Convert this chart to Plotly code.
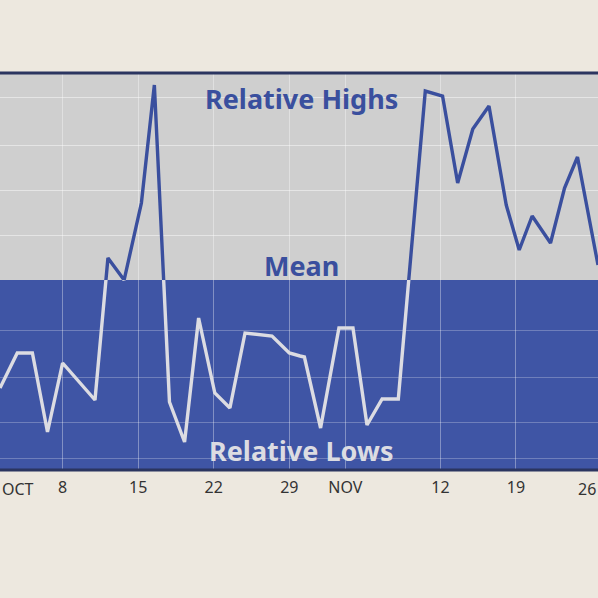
import plotly.graph_objects as go

# days since Oct 1 and value relative to mean (mean = 0)
days = [1.2, 2.8, 4.2, 5.6, 7.0, 10.0, 11.2, 12.7, 14.3, 15.5, 16.9, 18.3, 19.6,
        21.1, 22.5, 23.9, 26.4, 28.0, 29.0, 29.4, 30.9, 32.6, 33.9, 35.2, 36.6,
        38.1, 40.6, 42.2, 43.6, 45.0, 46.5, 48.1, 49.3, 50.5, 52.2, 53.5, 54.7, 56.6]
vals = [-10.8, -7.3, -7.3, -15.2, -8.3, -12.0, 2.2, 0.0, 7.7, 19.5, -12.2, -16.2, -3.8,
        -11.3, -12.8, -5.3, -5.6, -7.3, -7.6, -7.7, -14.8, -4.8, -4.8, -14.5, -11.9,
        -11.9, 18.9, 18.4, 9.7, 15.1, 17.4, 7.5, 3.0, 6.4, 3.7, 9.2, 12.3, 1.5]

tick_days = [0, 7, 14, 21, 28, 33.2, 42, 49, 56]
tick_text = ["OCT", "8", "15", "22", "29", "NOV", "12", "19", "26"]
grid_hi = [4.5, 9.0, 13.5, 18.3]
grid_lo = [-5.0, -9.7, -14.2, -17.8]

top, mean, low = 20.7, 0.0, -19.0
split = (mean - low) / (top - low)
navy = "#3a4f9e"
tfont = dict(family="Noto Sans", size=16, color="#333")

fig = go.Figure()
fig.add_trace(go.Scatter(x=days, y=vals, mode="lines", yaxis="y",
                         line=dict(color=navy, width=3.4), hoverinfo="skip"))
fig.add_trace(go.Scatter(x=days, y=vals, mode="lines", yaxis="y2",
                         line=dict(color="#dcdce2", width=3.4), hoverinfo="skip"))

fig.add_shape(type="rect", xref="paper", yref="paper", x0=0, x1=1, y0=split, y1=1,
              fillcolor="#cfcfcf", line_width=0, layer="below")
fig.add_shape(type="rect", xref="paper", yref="paper", x0=0, x1=1, y0=0, y1=split,
              fillcolor="#3f55a5", line_width=0, layer="below")
for yy in (0, 1):
    fig.add_shape(type="line", xref="paper", yref="paper", x0=0, x1=1, y0=yy, y1=yy,
                  line=dict(color="#2b3560", width=3))

lbl = dict(family="Noto Sans", size=27)
for yy, txt, col in [(0.937, "Relative Highs", navy), (0.514, "Mean", navy),
                     (0.05, "Relative Lows", "#dcdce2")]:
    fig.add_annotation(x=0.505, y=yy, xref="paper", yref="paper", yanchor="middle",
                       text=f"<b>{txt}</b>", showarrow=False, font=dict(color=col, **lbl))

# tick labels at the cut edges, drawn as annotations so they are not dropped
fig.add_annotation(x=0, y=-0.048, xref="paper", yref="paper", xanchor="left",
                   yanchor="middle", text=tick_text[0], showarrow=False, font=tfont)
fig.add_annotation(x=1, y=-0.048, xref="paper", yref="paper", xanchor="right",
                   yanchor="middle", text=tick_text[-1], showarrow=False, font=tfont)

fig.update_layout(
    width=598, height=598, margin=dict(l=0, r=0, t=73, b=128),
    paper_bgcolor="#ede8df", plot_bgcolor="rgba(0,0,0,0)", showlegend=False,
    xaxis=dict(range=[1.2, 56.6], tickvals=tick_days[1:-1], ticktext=tick_text[1:-1],
               anchor="y2", showgrid=True, gridcolor="rgba(255,255,255,0.35)",
               zeroline=False, tickfont=tfont, ticks="", ticklabelstandoff=6),
    yaxis=dict(domain=[split, 1], range=[mean, top], tickvals=grid_hi, showticklabels=False,
               gridcolor="rgba(255,255,255,0.45)", zeroline=False, anchor="x"),
    yaxis2=dict(domain=[0, split], range=[low, mean], tickvals=grid_lo, showticklabels=False,
                gridcolor="rgba(255,255,255,0.25)", zeroline=False, anchor="x"),
)
fig.write_html("out.html", config={"displayModeBar": False},
               post_script="document.body.style.margin='0';")
